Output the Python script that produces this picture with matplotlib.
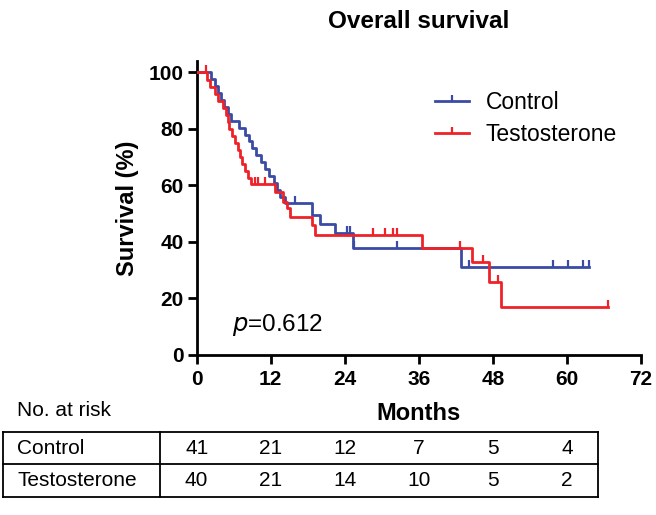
import matplotlib.pyplot as plt
import numpy as np
from matplotlib.lines import Line2D
from matplotlib.path import Path
import matplotlib.transforms as mtransforms

plt.rcParams['font.family'] = ['Liberation Sans', 'DejaVu Sans']

# Kaplan-Meier steps (months, survival %)
control_t = [0, 2.4, 2.9, 3.5, 4.0, 4.5, 5.0, 5.6, 6.8, 7.8, 8.4, 9.0, 9.6, 10.4,
             11.0, 11.8, 12.6, 13.0, 13.5, 14.3, 18.7, 20.0, 22.4, 25.3, 42.8, 63.6]
control_s = [100, 97.6, 95.1, 92.7, 90.2, 87.8, 85.4, 82.9, 80.5, 78.0, 75.6, 73.2,
             70.7, 68.3, 65.9, 63.4, 61.0, 58.5, 56.1, 53.7, 49.5, 46.4, 43.2, 37.9,
             31.3, 31.3]
control_cens_t = [16.0, 24.3, 24.8, 25.5, 32.4, 44.1, 57.7, 60.1, 62.6, 63.6]

testo_t = [0, 1.7, 2.2, 2.9, 3.5, 4.2, 4.7, 5.0, 5.3, 5.7, 6.2, 6.7, 7.0, 7.3, 7.8,
           8.3, 8.8, 12.7, 14.0, 14.6, 15.1, 18.7, 19.1, 36.5, 44.6, 47.4, 49.3, 66.6]
testo_s = [100, 97.5, 95.0, 92.5, 90.0, 87.5, 85.0, 82.5, 80.0, 77.5, 75.0, 72.5,
           70.0, 67.5, 65.0, 62.5, 60.7, 57.8, 54.3, 52.0, 49.0, 46.0, 42.5, 37.9,
           33.0, 26.0, 17.1, 17.1]
testo_cens_t = [1.5, 9.4, 9.9, 11.0, 28.6, 30.5, 31.8, 32.4, 42.6, 46.4, 48.9, 66.6]

risk_months = [0, 12, 24, 36, 48, 60]
risk_control = [41, 21, 12, 7, 5, 4]
risk_testo = [40, 21, 14, 10, 5, 2]
groups = ['Control', 'Testosterone']

blue = '#3B4BA5'
red = '#EE2229'
tick_marker = Path([(0, 0), (0, 1)], [Path.MOVETO, Path.LINETO])


def surv_at(t_list, s_list, times):
    idx = np.searchsorted(t_list, times, side='right') - 1
    return np.array(s_list)[idx]


fig = plt.figure(figsize=(6.56, 5.15), dpi=100)
ax = fig.add_axes([0.2998, 0.3107, 0.6773, 0.5705])

for t, s, ct, col in [(control_t, control_s, control_cens_t, blue),
                      (testo_t, testo_s, testo_cens_t, red)]:
    ax.step(t, s, where='post', color=col, lw=2.0, zorder=3)
    ax.plot(ct, surv_at(t, s, ct), ls='none', marker=tick_marker, ms=10,
            mew=1.6, color=col, zorder=3)

ax.set_xlim(0, 72)
ax.set_ylim(0, 104)
ax.set_xticks(np.arange(0, 73, 12))
ax.set_yticks(np.arange(0, 101, 20))
for sp in ['top', 'right']:
    ax.spines[sp].set_visible(False)
for sp in ['left', 'bottom']:
    ax.spines[sp].set_linewidth(2)
ax.tick_params(width=2, length=6.5, labelsize=15, pad=3)
ax.tick_params(axis='x', pad=4)
for lbl in ax.get_xticklabels() + ax.get_yticklabels():
    lbl.set_fontweight('bold')
ax.set_ylabel('Survival (%)', fontsize=17, fontweight='bold', labelpad=7)
ax.set_xlabel('Months', fontsize=17, fontweight='bold', labelpad=10)
ax.set_title('Overall survival', fontsize=17.5, fontweight='bold', pad=24)

ax.text(5.7, 8.5, r'$\it{p}$=0.612', fontsize=17.5)

handles = [Line2D([], [], color=blue, lw=2, marker=tick_marker, ms=8, mew=1.6),
           Line2D([], [], color=red, lw=2, marker=tick_marker, ms=8, mew=1.6)]
ax.legend(handles, groups, loc='upper left', bbox_to_anchor=(0.49, 0.97),
          frameon=False, fontsize=16.5, handlelength=1.5, handletextpad=0.7,
          labelspacing=0.4, numpoints=1)

# number at risk table
H = 515.0
W = 656.0
fig.text(17 / W, 1 - 410 / H, 'No. at risk', fontsize=15, va='center')
top, mid, bot = 1 - 432 / H, 1 - 464 / H, 1 - 497 / H
x0, x1, xd = 3 / W, 598 / W, 160 / W
lw = 1.3
for y in [top, mid, bot]:
    fig.add_artist(Line2D([x0, x1], [y, y], color='black', lw=lw))
for x in [x0, xd, x1]:
    fig.add_artist(Line2D([x, x], [bot, top], color='black', lw=lw))
trans = mtransforms.blended_transform_factory(ax.transData, fig.transFigure)
rows = [risk_control, risk_testo]
for i, (name, vals) in enumerate(zip(groups, rows)):
    yc = (top + mid) / 2 if i == 0 else (mid + bot) / 2
    fig.text(17 / W, yc, name, fontsize=15, va='center')
    for m, v in zip(risk_months, vals):
        ax.text(m, yc, str(v), transform=trans, fontsize=15, ha='center',
                va='center', clip_on=False)

fig.savefig('out.png', dpi=100)
